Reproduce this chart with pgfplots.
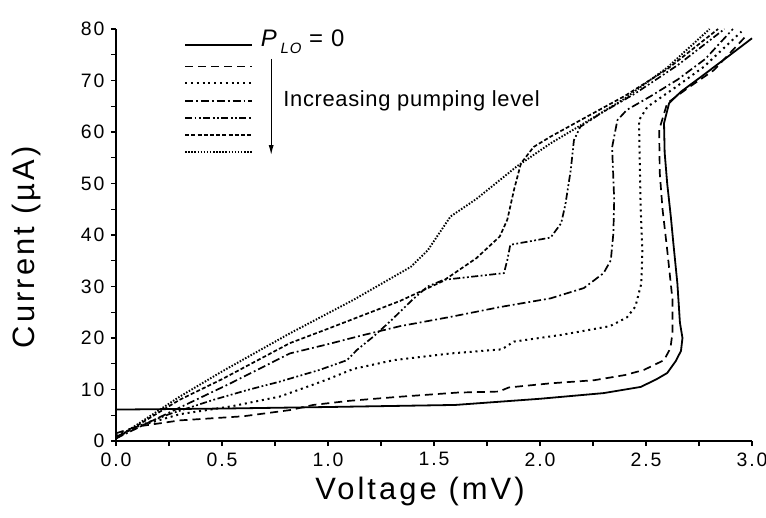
\documentclass[border=0pt]{standalone}
\usepackage{pgfplots}
\pgfplotsset{compat=1.18}
\usepackage{fontspec}
\setmainfont{Liberation Sans}
\usetikzlibrary{arrows.meta}

\tikzset{
  lo0/.style={black, line width=1.8bp, solid},
  lo1/.style={black, line width=1.7bp, dash pattern=on 8bp off 5bp},
  lo2/.style={black, line width=2bp, dash pattern=on 2bp off 3.8bp},
  lo3/.style={black, line width=1.7bp, dash pattern=on 8bp off 3bp on 1.8bp off 3bp},
  lo4/.style={black, line width=1.7bp, dash pattern=on 7bp off 2.5bp on 1.8bp off 2.5bp on 1.8bp off 2.5bp},
  lo5/.style={black, line width=1.7bp, dash pattern=on 4bp off 2.2bp},
  lo6/.style={black, line width=1.9bp, dash pattern=on 1.5bp off 1.6bp},
}

\begin{document}
\begin{tikzpicture}
\begin{axis}[
  scale only axis, width=636bp, height=412bp,
  xmin=0, xmax=3, ymin=0, ymax=80,
  axis x line*=bottom, axis y line*=left,
  axis line style={line width=1.2bp},
  xtick={0,0.5,...,3}, minor x tick num=1,
  ytick={0,10,...,80}, minor y tick num=1,
  tick align=outside, major tick length=5bp, minor tick length=5bp,
  tick style={line width=1.2bp, black},
  /pgf/number format/assume math mode=true,
  tick label style={font=\fontsize{19.5}{19.5}\selectfont\addfontfeature{LetterSpace=10}},
  xticklabel style={/pgf/number format/fixed, /pgf/number format/fixed zerofill,
    /pgf/number format/precision=1, yshift=-3bp},
  yticklabel style={xshift=-3bp},
  xlabel={Voltage (mV)}, ylabel={Current (µA)},
  label style={font=\fontsize{31}{31}\selectfont\addfontfeature{LetterSpace=10}},
  x label style={at={(axis description cs:0.478,0)}, anchor=center, yshift=-51bp},
  y label style={at={(axis description cs:0,0.47)}, anchor=center, yshift=89bp},
  clip=false,
]
% P_LO = 0
\addplot[lo0] coordinates {
(0,6.1) (0.5,6.3) (1.0,6.6) (1.6,7.0) (2.0,8.2) (2.3,9.3) (2.475,10.5)
(2.55,12.0) (2.60,13.2) (2.64,15.5) (2.665,17.5) (2.672,20.0) (2.66,23.0)
(2.648,30.6) (2.63,38.0) (2.617,43.6) (2.60,50.0) (2.588,56.0) (2.585,61.7)
(2.609,65.6) (2.664,67.8) (2.759,70.7) (2.885,74.6) (3.0,78.2)};
% pumping level 1
\addplot[lo1] coordinates {
(0,1.5) (0.1,2.8) (0.3,4.0) (0.6,4.8) (0.82,6.0) (0.93,7.0) (1.1,7.8)
(1.34,8.6) (1.61,9.4) (1.806,9.6) (1.853,10.4) (2.05,11.2) (2.255,11.8)
(2.40,12.8) (2.49,13.8) (2.585,15.7) (2.615,18.0) (2.625,21.0) (2.625,27.4)
(2.60,37.1) (2.578,45.0) (2.565,52.0) (2.562,60.4) (2.60,65.6) (2.696,68.5)
(2.82,72.0) (2.98,79.0)};
% pumping level 2
\addplot[lo2] coordinates {
(0,1.0) (0.1,2.8) (0.3,5.2) (0.54,6.7) (0.77,8.6) (0.9,10.5) (1.0,12.0)
(1.12,14.0) (1.31,15.7) (1.578,17.0) (1.82,17.8) (1.877,19.3) (2.10,20.6)
(2.33,22.3) (2.41,24.0) (2.45,26.1) (2.478,30.6) (2.483,37.1) (2.475,45.0)
(2.47,55.0) (2.467,62.3) (2.507,64.9) (2.633,68.5) (2.774,72.7) (2.95,79.5)};
% pumping level 3
\addplot[lo3] coordinates {
(0,0.5) (0.1,2.5) (0.25,5.5) (0.54,11.2) (0.82,17.0) (1.0,18.8) (1.15,20.4)
(1.34,22.3) (1.578,24.1) (1.81,26.0) (2.05,27.7) (2.207,29.7) (2.30,32.6)
(2.334,35.1) (2.346,40.3) (2.35,46.8) (2.345,52.0) (2.34,57.0) (2.365,62.3)
(2.41,64.3) (2.52,66.9) (2.65,70.2) (2.78,74.2) (2.91,80.0)};
% pumping level 4
\addplot[lo4] coordinates {
(0,0.8) (0.1,2.8) (0.25,5.2) (0.46,8.0) (0.62,9.9) (0.77,11.5) (0.96,13.8)
(1.09,15.7) (1.137,17.7) (1.215,20.3) (1.3,23.5) (1.40,27.5) (1.47,30.0)
(1.546,31.3) (1.70,32.0) (1.83,32.6) (1.845,35.0) (1.86,38.1) (2.05,39.5)
(2.10,42.3) (2.12,46.0) (2.145,52.6) (2.16,58.4) (2.19,61.0) (2.286,63.6)
(2.45,67.5) (2.65,73.0) (2.87,80.0)};
% pumping level 5
\addplot[lo5] coordinates {
(0,0.5) (0.1,3.0) (0.3,8.0) (0.5,12.0) (0.82,19.0) (1.0,21.8) (1.34,27.2)
(1.54,31.0) (1.70,35.5) (1.81,39.7) (1.846,43.0) (1.877,48.7) (1.91,53.9)
(1.97,57.1) (2.05,59.1) (2.2,62.5) (2.4,67.0) (2.6,72.2) (2.84,80.0)};
% pumping level 6
\addplot[lo6] coordinates {
(0,0.5) (0.1,3.2) (0.3,8.6) (0.5,13.5) (0.82,20.9) (1.12,27.4) (1.39,33.8)
(1.47,37.0) (1.578,43.6) (1.7,47.0) (1.89,53.3) (2.05,57.8) (2.2,61.5)
(2.4,66.5) (2.6,72.5) (2.8,80.0)};

% legend
\draw[lo0] (axis cs:0.326,76.9) -- (axis cs:0.642,76.9);
\node[anchor=west, inner sep=0pt, font=\fontsize{24}{24}\selectfont\addfontfeature{LetterSpace=5}]
  at (axis cs:0.682,77.6) {\itshape P\,\raisebox{-7bp}{\fontsize{15}{15}\selectfont LO}\upshape{} = 0};
\draw[lo1] (axis cs:0.326,72.7) -- (axis cs:0.642,72.7);
\draw[lo2] (axis cs:0.326,69.5) -- (axis cs:0.642,69.5);
\draw[lo3] (axis cs:0.326,66.0) -- (axis cs:0.642,66.0);
\draw[lo4] (axis cs:0.326,62.7) -- (axis cs:0.642,62.7);
\draw[lo5] (axis cs:0.326,59.4) -- (axis cs:0.642,59.4);
\draw[lo6] (axis cs:0.326,56.1) -- (axis cs:0.642,56.1);
\draw[line width=1.2bp, -{Latex[length=10bp, width=5bp]}] (axis cs:0.732,74.2) -- (axis cs:0.732,55.5);
\node[anchor=west, inner sep=0pt, font=\fontsize{22}{22}\selectfont\addfontfeature{LetterSpace=3}]
  at (axis cs:0.789,66.0) {Increasing pumping level};
\end{axis}
\pgfresetboundingbox
\path (-116bp,-77bp) rectangle (650bp,441bp);
\end{tikzpicture}
\end{document}
